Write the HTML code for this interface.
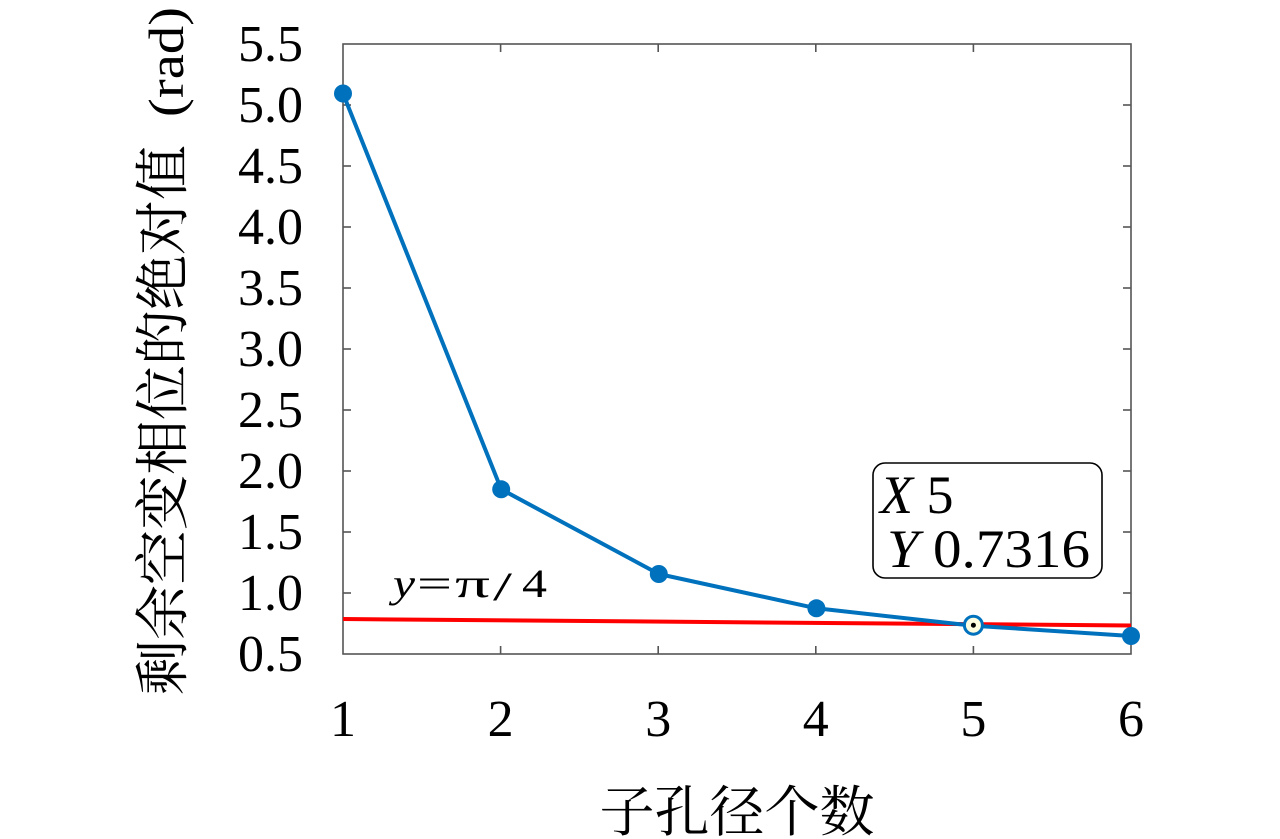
<!DOCTYPE html>
<html>
<head>
<meta charset="utf-8">
<style>
html,body{margin:0;padding:0;background:#fff;}
svg{display:block;}
</style>
</head>
<body>
<svg width="1280" height="839" viewBox="0 0 1280 839" xmlns="http://www.w3.org/2000/svg">
<rect width="1280" height="839" fill="#fff"/>
<!-- axes box -->
<rect x="343" y="44" width="788" height="610" fill="none" stroke="#555" stroke-width="1.6"/>
<g stroke="#555" stroke-width="1.6">
  <line x1="343" y1="593" x2="351" y2="593"/><line x1="1131" y1="593" x2="1123" y2="593"/>
  <line x1="343" y1="532" x2="351" y2="532"/><line x1="1131" y1="532" x2="1123" y2="532"/>
  <line x1="343" y1="471" x2="351" y2="471"/><line x1="1131" y1="471" x2="1123" y2="471"/>
  <line x1="343" y1="410" x2="351" y2="410"/><line x1="1131" y1="410" x2="1123" y2="410"/>
  <line x1="343" y1="349" x2="351" y2="349"/><line x1="1131" y1="349" x2="1123" y2="349"/>
  <line x1="343" y1="288" x2="351" y2="288"/><line x1="1131" y1="288" x2="1123" y2="288"/>
  <line x1="343" y1="227" x2="351" y2="227"/><line x1="1131" y1="227" x2="1123" y2="227"/>
  <line x1="343" y1="166" x2="351" y2="166"/><line x1="1131" y1="166" x2="1123" y2="166"/>
  <line x1="343" y1="105" x2="351" y2="105"/><line x1="1131" y1="105" x2="1123" y2="105"/>
  <line x1="500.6" y1="654" x2="500.6" y2="646"/><line x1="500.6" y1="44" x2="500.6" y2="52"/>
  <line x1="658.2" y1="654" x2="658.2" y2="646"/><line x1="658.2" y1="44" x2="658.2" y2="52"/>
  <line x1="815.8" y1="654" x2="815.8" y2="646"/><line x1="815.8" y1="44" x2="815.8" y2="52"/>
  <line x1="973.4" y1="654" x2="973.4" y2="646"/><line x1="973.4" y1="44" x2="973.4" y2="52"/>
</g>

<!-- y tick labels -->
<g font-family="'Liberation Serif', serif" font-size="52" text-anchor="end" fill="#000">
  <text x="303" y="671">0.5</text>
  <text x="303" y="610">1.0</text>
  <text x="303" y="549">1.5</text>
  <text x="303" y="488">2.0</text>
  <text x="303" y="427">2.5</text>
  <text x="303" y="366">3.0</text>
  <text x="303" y="305">3.5</text>
  <text x="303" y="244">4.0</text>
  <text x="303" y="183">4.5</text>
  <text x="303" y="122">5.0</text>
  <text x="303" y="61">5.5</text>
</g>
<!-- x tick labels -->
<g font-family="'Liberation Serif', serif" font-size="52" text-anchor="middle" fill="#000">
  <text x="343" y="736">1</text>
  <text x="500.6" y="736">2</text>
  <text x="658.2" y="736">3</text>
  <text x="815.8" y="736">4</text>
  <text x="973.4" y="736">5</text>
  <text x="1131" y="736">6</text>
</g>

<!-- x label -->
<text x="737" y="831" font-size="55" text-anchor="middle" fill="#000" font-family="'Noto Serif CJK SC', serif">子孔径个数</text>

<!-- y label -->
<g transform="translate(182,695) rotate(-90)">
  <text x="0" y="0" font-size="55" fill="#000" textLength="550" lengthAdjust="spacingAndGlyphs" font-family="'Noto Serif CJK SC', serif">剩余空变相位的绝对值</text>
</g>
<g transform="translate(183,117) rotate(-90)">
  <text x="0" y="0" font-size="50" fill="#000" textLength="110" lengthAdjust="spacingAndGlyphs" font-family="'Liberation Serif', serif">(rad)</text>
</g>

<!-- red line -->
<line x1="343" y1="619" x2="1131" y2="625.5" stroke="#ff0000" stroke-width="4"/>

<!-- blue series -->
<polyline points="343,93.5 501.2,489.3 658.8,574 816.4,608.3 973.4,625.7 1131,636" fill="none" stroke="#0072bd" stroke-width="4" stroke-linejoin="round"/>
<g fill="#0072bd">
  <circle cx="343" cy="93.5" r="9"/>
  <circle cx="501.2" cy="489.3" r="9"/>
  <circle cx="658.8" cy="574" r="9"/>
  <circle cx="816.4" cy="608.3" r="9"/>
  <circle cx="1131" cy="636" r="9"/>
</g>
<!-- data tip marker -->
<circle cx="973.4" cy="625.2" r="9" fill="#fffde0" stroke="#0072bd" stroke-width="3"/>
<circle cx="973.4" cy="625.2" r="2.5" fill="#000"/>

<!-- y=pi/4 label -->
<g font-family="'Liberation Serif', serif" font-size="40" fill="#000">
  <text x="393" y="597" font-style="italic" textLength="22" lengthAdjust="spacingAndGlyphs">y</text>
  <text x="417" y="597" textLength="35" lengthAdjust="spacingAndGlyphs">=</text>
  <text x="455" y="597" textLength="35" lengthAdjust="spacingAndGlyphs">π</text>
  <text x="493" y="600" textLength="19" lengthAdjust="spacingAndGlyphs">/</text>
  <text x="522" y="597" textLength="25" lengthAdjust="spacingAndGlyphs">4</text>
</g>

<!-- data tip box -->
<rect x="873" y="463" width="229" height="115" rx="12" ry="12" fill="#fff" stroke="#000" stroke-width="1.6"/>
<g font-family="'Liberation Serif', serif" font-size="54" fill="#000">
  <text x="880" y="513"><tspan font-style="italic">X</tspan> 5</text>
  <text x="887" y="567" textLength="203" lengthAdjust="spacingAndGlyphs"><tspan font-style="italic">Y</tspan> 0.7316</text>
</g>
</svg>
</body>
</html>
